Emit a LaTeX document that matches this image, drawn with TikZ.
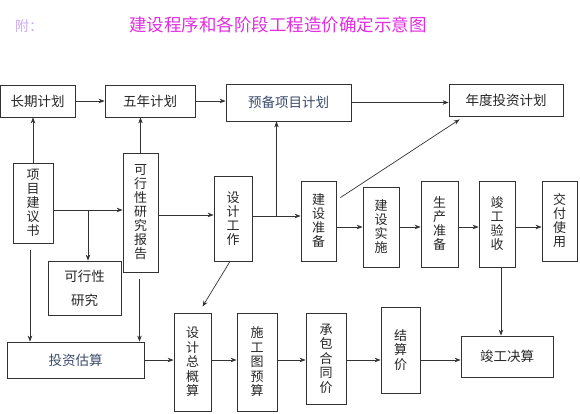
\documentclass[tikz,border=0pt]{standalone}
\usepackage{fontspec}
\newfontfamily\cjk{Noto Sans CJK SC}
\usetikzlibrary{arrows.meta,calc}
\definecolor{titlemag}{HTML}{E02EE0}
\definecolor{fulav}{HTML}{CCA8F0}
\definecolor{linec}{HTML}{333333}
\definecolor{bluet}{HTML}{3A4A6A}
\tikzset{
  box/.style={draw=linec, line width=0.8pt, inner sep=0pt, align=center, text=black!85,
    font=\cjk\fontsize{13.5}{14}\selectfont},
  vbox/.style={box, font=\cjk\fontsize{13}{14}\selectfont},
  arr/.style={draw=linec, line width=0.7pt, -{Stealth[length=6pt,width=4.5pt]}},
  ln/.style={draw=linec, line width=0.7pt}
}
\begin{document}
\begin{tikzpicture}[x=1pt,y=-1pt]
\useasboundingbox (0,0) rectangle (580,413);
% titles
\node[font=\cjk\fontsize{14}{14}\selectfont, text=fulav] (fu) at (29,26) {附：};
\node[font=\cjk\fontsize{17.5}{18}\selectfont, text=titlemag] (title) at (278,25) {建设程序和各阶段工程造价确定示意图};
% top row
\node[box, minimum width=75pt, minimum height=32pt] (lq) at (37.5,101) {长期计划};
\node[box, minimum width=90pt, minimum height=32pt] (wn) at (150,101) {五年计划};
\node[box, minimum width=125pt, minimum height=37pt, text=bluet] (yb) at (288.5,102.5) {预备项目计划};
\node[box, minimum width=114pt, minimum height=32pt] (nd) at (506,100) {年度投资计划};
% middle row
\node[vbox, minimum width=40pt, minimum height=80pt] (xm) at (33,203) {项\\目\\建\\议\\书};
\node[vbox, minimum width=35pt, minimum height=119pt] (kb) at (140.5,212.5) {可\\行\\性\\研\\究\\报\\告};
\node[box, minimum width=73pt, minimum height=54pt, font=\cjk\fontsize{13.5}{24}\selectfont] (ky) at (84.5,288) {可行性\\研究};
\node[vbox, minimum width=38pt, minimum height=85pt] (sj) at (233,218.5) {设\\计\\工\\作};
\node[vbox, minimum width=35pt, minimum height=80pt] (jz) at (318.5,221) {建\\设\\准\\备};
\node[vbox, minimum width=36pt, minimum height=80pt] (js) at (381,227) {建\\设\\实\\施};
\node[vbox, minimum width=37pt, minimum height=86pt] (sc) at (439.5,224) {生\\产\\准\\备};
\node[vbox, minimum width=36pt, minimum height=86pt] (jg) at (497,224) {竣\\工\\验\\收};
\node[vbox, minimum width=35pt, minimum height=80pt] (jf) at (559.5,221) {交\\付\\使\\用};
% bottom row
\node[box, minimum width=137pt, minimum height=36pt, text=bluet] (tz) at (75.5,360) {投资估算};
\node[vbox, minimum width=37pt, minimum height=98pt, font=\cjk\fontsize{13}{14.5}\selectfont] (zg) at (192.5,362) {设\\计\\总\\概\\算};
\node[vbox, minimum width=40pt, minimum height=98pt, font=\cjk\fontsize{13}{14.5}\selectfont] (sg) at (257,362) {施\\工\\图\\预\\算};
\node[vbox, minimum width=40pt, minimum height=91pt, font=\cjk\fontsize{13}{14.5}\selectfont] (cb) at (326,358.5) {承\\包\\合\\同\\价};
\node[vbox, minimum width=39pt, minimum height=86pt, font=\cjk\fontsize{13}{14.5}\selectfont] (ja) at (400.5,350) {结\\算\\价};
\node[box, minimum width=92pt, minimum height=41pt] (jj) at (507,356.5) {竣工决算};
% connectors top row
\draw[arr] (lq.east) -- (wn.west);
\draw[arr] (wn.east) -- (wn.east -| yb.west);
\draw[arr] (yb.east) -- (yb.east -| nd.west);
\draw[arr] (xm.north) -- (xm.north |- lq.south);
\draw[arr] (kb.north) -- (kb.north |- wn.south);
% from 项目建议书
\coordinate (xmr) at ([yshift=-7pt]xm.east);
\draw[arr] (xmr) -- (xmr -| kb.west);
\coordinate (br) at ([xshift=3.5pt]ky.north |- xmr);
\draw[arr] (br) -- ([xshift=3.5pt]ky.north);
\coordinate (xmd) at ([xshift=-3pt,yshift=-7pt]xm.south);
\draw[arr] (xmd) -- (xmd |- tz.north);
\coordinate (kbd) at ([xshift=-1pt,yshift=-7pt]kb.south);
\draw[arr] (kbd) -- (kbd |- tz.north);
% from 可行性研究报告 / 设计工作
\coordinate (kbr) at ([yshift=-2.5pt]kb.east);
\draw[arr] (kbr) -- (kbr -| sj.west);
\coordinate (sjr) at ([yshift=2.5pt]sj.east);
\draw[arr] (sjr) -- (sjr -| jz.west);
\coordinate (m) at ($(sjr)!0.5!(sjr -| jz.west)$);
\draw[arr] (m) -- (m |- yb.south);
\draw[arr] ([xshift=4pt,yshift=-17pt]jz.north east) -- ([xshift=11pt,yshift=-3pt]nd.south west);
\draw[arr] ([xshift=-3pt]sj.south) -- ([xshift=10pt,yshift=6pt]zg.north);
% construction chain
\draw[arr] (jz.east |- js.west) -- (js.west);
\draw[arr] (js.east) -- (js.east -| sc.west);
\draw[arr] (js.east -| sc.east) -- (js.east -| jg.west);
\draw[arr] (js.east -| jg.east) -- (js.east -| jf.west);
\draw[arr] ([xshift=4pt]jg.south) -- ([xshift=4pt]jg.south |- jj.north);
% bottom chain
\draw[arr] (tz.east) -- (tz.east -| zg.west);
\draw[arr] (tz.east -| zg.east) -- (tz.east -| sg.west);
\draw[arr] (tz.east -| sg.east) -- (tz.east -| cb.west);
\draw[arr] (tz.east -| cb.east) -- (tz.east -| ja.west);
\draw[arr] (tz.east -| ja.east) -- (tz.east -| jj.west);
\end{tikzpicture}
\end{document}
